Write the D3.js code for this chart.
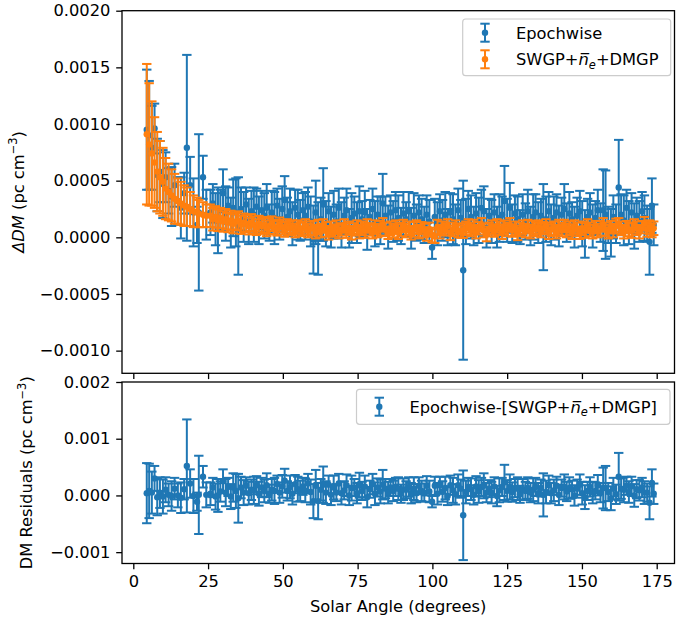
<!DOCTYPE html>
<html>
<head>
	<meta charset="utf-8">
	<title>DM vs solar angle</title>
	<script type="text/javascript" src="https://d3js.org/d3.v7.min.js"></script>
	<style>
		body { margin: 0; background: #fff; }
		text { font-family: "DejaVu Sans", sans-serif; fill: #000; }
	</style>
</head>
<body>
<div id="chart"></div>
<script type="text/javascript">

/* all DM values are in units of 1e-4 pc cm^-3 */
var angle = [
	4.5, 5.3, 6.2, 7.1, 8.0, 8.9, 9.9, 10.8, 11.8, 12.8,
	13.8, 14.9, 15.9, 17.0, 17.9, 19.0, 20.1, 21.3, 21.9, 23.3, 24.4,
	25.8, 26.6, 27.5, 28.3, 29.1, 30.0, 30.9, 31.7, 32.6, 33.4,
	34.3, 35.1, 36.0, 36.9, 37.7, 38.6, 39.5, 40.3, 41.2, 42.0,
	42.9, 43.8, 44.6, 45.5, 46.3, 47.2, 48.1, 48.9, 49.8, 50.6,
	51.5, 52.4, 53.2, 54.1, 55.0, 55.8, 56.7, 57.5, 58.4, 59.3,
	60.2, 61.0, 61.8, 62.7, 63.5, 64.4, 65.3, 66.1, 67.0, 67.9,
	68.7, 69.6, 70.5, 71.3, 72.2, 73.0, 73.9, 74.8, 75.6, 76.5,
	77.4, 78.2, 79.1, 80.0, 80.8, 81.7, 82.6, 83.4, 84.3, 85.2,
	86.0, 86.9, 87.7, 88.6, 89.5, 90.3, 91.2, 92.1, 92.9, 93.8,
	94.7, 95.5, 96.4, 97.3, 98.1, 99.0, 99.9,
	100.8, 101.7, 102.5, 103.4, 104.3, 105.1, 106.0, 106.9, 107.7, 108.6,
	109.5, 110.3, 111.2, 112.0, 112.9, 113.8, 114.6, 115.5, 116.4, 117.2,
	118.1, 119.0, 119.8, 120.7, 121.6, 122.4, 123.3, 124.1, 125.0, 125.9,
	126.7, 127.6, 128.5, 129.3, 130.2, 131.1, 131.9, 132.8, 133.7, 134.5,
	135.4, 136.3, 137.1, 138.0, 138.9, 139.7,
	140.6, 141.5, 142.3, 143.2, 144.1, 144.9, 145.8, 146.7, 147.5, 148.4,
	149.3, 150.1, 151.0, 151.9, 152.7, 153.6, 154.5, 155.3, 156.2, 157.1,
	157.9, 158.8, 159.7, 160.5, 161.4, 162.3, 163.1, 164.0, 164.9, 165.7,
	166.6, 167.5, 168.3, 169.2, 170.1, 170.9, 171.8, 172.6, 173.4, 174.0
];

var epochDM = [
	9.5, 9.0, 7.9, 9.6, 5.5, 5.8, 4.7, 5.3, 4.1, 3.6,
	4.6, 3.2, 2.6, 3.9, 7.9, 4.6, 2.2, 1.1, 2.2, 5.3, 2.0,
	2.2, 3.0, 1.6, 1.5, 2.4, 3.9, 2.1, 2.8, 1.3, 2.6,
	2.2, 1.0, 2.5, 1.8, 2.9, 1.4, 2.3, 2.0, 2.7, 1.5,
	2.4, 1.9, 2.6, 1.3, 2.2, 1.7, 2.8, 1.6, 2.5, 3.3,
	1.8, 2.3, 1.2, 2.6, 2.0, 1.5, 2.4, 1.9, 2.7, 1.4,
	-0.2, 2.2, -0.1, 1.6, 2.9, 1.2, 2.3, 0.9, 2.0, 1.4,
	2.6, 1.1, 1.9, 2.4, 0.8, 1.7, 2.1, 1.3, 2.3, 1.6,
	2.2, 0.7, 1.8, 2.5, 1.2, 2.0, 1.5, 3.0, 1.9, 0.9,
	2.2, 1.4, 2.4, 1.7, 1.0, 2.1, 1.6, 2.3, 0.8, 1.9,
	1.3, 2.2, 1.6, 1.1, 2.0, 1.4, -0.9,
	1.8, 1.2, 2.3, 1.5, 2.0, 0.9, 2.2, 1.6, 1.1, 2.4,
	1.7, -2.9, 1.4, 2.5, 1.8, 1.0, 2.1, 1.5, 2.6, 2.3,
	0.8, 1.9, 1.4, 2.2, 0.9, 1.7, 2.0, 3.2, 1.5, 2.6,
	1.2, 2.1, 1.6, 0.9, 2.0, 1.4, 2.3, 1.0, 1.8, 2.2,
	1.3, 1.9, 0.9, 1.6, 2.3, 1.1,
	1.7, 2.2, 1.0, 2.0, 2.5, 1.3, 2.1, 1.6, 0.9, 1.9,
	2.3, 1.2, 0.3, 1.8, 2.2, 1.0, 1.7, 2.4, 1.3, 2.4,
	2.0, 1.1, 0.4, 1.8, 1.2, 4.4, 2.0, 1.5, 2.6, 1.3,
	2.2, 1.0, 1.9, 1.4, 2.3, 1.7, 1.2, -0.4, 2.8, 1.1
];

var epochErr = [
	5.3, 4.8, 3.7, 2.2, 3.2, 2.7, 3.0, 2.2, 2.0, 2.6,
	1.9, 2.1, 2.7, 1.8, 8.2, 2.5, 3.0, 1.6, 6.9, 1.9, 2.2,
	2.0, 1.7, 2.3, 2.9, 1.8, 2.1, 2.4, 1.6, 2.2, 2.5,
	3.0, 4.3, 1.9, 2.2, 1.5, 2.0, 1.8, 2.4, 1.6, 2.1,
	1.7, 2.0, 2.1, 1.6, 1.9, 2.3, 1.5, 1.8, 2.0, 2.1,
	1.7, 2.0, 1.9, 1.6, 2.2, 1.8, 1.5, 2.1, 1.7, 2.2,
	3.0, 2.8, 3.2, 1.9, 3.2, 2.0, 1.6, 1.8, 2.1, 1.5,
	1.7, 2.0, 1.6, 1.9, 1.7, 2.2, 1.5, 1.8, 2.2, 1.6,
	1.9, 1.8, 1.5, 1.8, 2.0, 1.6, 2.1, 2.6, 1.7, 1.9,
	1.5, 1.8, 1.6, 2.0, 1.6, 1.9, 1.5, 1.7, 1.8, 2.0,
	1.6, 1.5, 1.8, 1.6, 1.7, 1.9, 1.0,
	1.6, 1.9, 1.5, 1.8, 2.0, 1.6, 1.7, 2.2, 1.8, 1.9,
	1.6, 7.9, 2.0, 1.6, 1.9, 1.7, 1.8, 2.0, 1.6, 2.2,
	1.7, 1.5, 1.9, 1.6, 1.8, 2.1, 1.6, 3.1, 1.9, 2.2,
	1.7, 1.6, 2.0, 1.5, 1.8, 1.6, 1.9, 1.7, 2.0, 1.6,
	1.8, 1.5, 3.8, 2.0, 1.7, 1.8,
	1.9, 1.6, 1.8, 1.5, 2.2, 1.7, 1.9, 1.5, 1.8, 1.6,
	1.8, 2.0, 2.1, 1.6, 1.7, 1.9, 1.5, 1.8, 1.7, 3.6,
	3.9, 1.6, 2.1, 1.9, 1.7, 4.2, 1.8, 2.2, 1.6, 1.9,
	1.7, 2.0, 1.6, 1.8, 1.7, 2.0, 1.6, 2.9, 2.4, 1.8
];

var modelDM = [
	9.1, 8.2, 7.4, 6.6, 5.8, 5.3, 4.9, 4.3, 4.0, 3.7,
	3.4, 3.2, 3.0, 2.8, 2.7, 2.5, 2.3, 2.2, 2.1, 2.0, 1.9,
	1.9, 1.6, 1.8, 1.5, 1.7, 1.4, 1.6, 1.3, 1.5, 1.2,
	1.4, 1.5, 1.1, 1.3, 1.2, 1.0, 1.3, 1.1, 0.9, 1.2,
	1.0, 1.1, 0.8, 1.0, 1.2, 0.9, 0.8, 1.1, 0.9, 0.7,
	1.0, 0.8, 0.9, 0.6, 0.9, 0.7, 0.8, 1.0, 0.6, 0.8,
	0.8, 0.5, 0.9, 0.6, 1.0, 0.7, 0.4, 0.8, 0.6, 0.9,
	0.5, 0.7, 1.0, 0.6, 0.8, 0.4, 0.7, 0.9, 0.5, 0.8,
	0.6, 1.0, 0.7, 0.5, 0.9, 0.6, 0.8, 1.1, 0.7, 0.4,
	0.8, 0.6, 0.9, 0.5, 0.7, 1.0, 0.6, 0.8, 0.4, 0.7,
	0.9, 0.5, 0.8, 0.6, 0.3, 0.7, 0.2,
	0.1, 0.9, 0.5, 0.8, 0.7, 1.0, 0.4, 0.7, 0.9, 0.6,
	0.5, 0.6, 0.8, 1.0, 0.7, 0.9, 0.5, 0.8, 1.1, 0.6,
	0.3, 0.7, 0.9, 0.6, 1.0, 0.8, 0.5, 0.9, 0.7, 1.1,
	0.6, 0.8, 0.4, 0.7, 0.9, 0.6, 1.0, 0.5, 0.8, 0.7,
	0.9, 0.6, 0.8, 1.0, 0.5, 0.7,
	0.8, 0.5, 0.9, 0.7, 1.0, 0.6, 0.8, 0.5, 0.9, 0.7,
	0.4, 0.8, 0.6, 1.0, 0.7, 0.5, 0.9, 0.6, 0.8, 1.1,
	0.7, 0.5, 0.9, 0.6, 1.0, 1.1, 0.8, 0.5, 0.9, 0.7,
	0.6, 1.0, 0.8, 0.5, 0.9, 1.2, 0.7, 0.9, 0.6, 0.8
];

var modelErr = [
	6.2, 5.4, 4.6, 4.0, 3.5, 3.2, 3.0, 2.7, 2.5, 2.3,
	2.2, 2.0, 1.9, 1.8, 1.7, 1.5, 1.4, 1.3, 1.2, 1.1, 1.0,
	1.0, 1.0, 0.95, 0.95, 0.9, 0.9, 0.9, 0.85, 0.85, 0.85,
	0.8, 0.8, 0.8, 0.8, 0.75, 0.75, 0.75, 0.75, 0.7, 0.7,
	0.7, 0.7, 0.7, 0.7, 0.65, 0.65, 0.65, 0.65, 0.65, 0.65,
	0.6, 0.6, 0.6, 0.6, 0.6, 0.6, 0.6, 0.6, 0.6, 0.6,
	0.65, 0.6, 0.65, 0.6, 0.6, 0.65, 0.6, 0.6, 0.55, 0.6,
	0.6, 0.55, 0.6, 0.65, 0.6, 0.6, 0.55, 0.6, 0.6, 0.6,
	0.65, 0.6, 0.55, 0.6, 0.6, 0.6, 0.65, 0.6, 0.6, 0.55,
	0.6, 0.6, 0.6, 0.65, 0.6, 0.55, 0.6, 0.6, 0.6, 0.65,
	0.6, 0.6, 0.55, 0.6, 0.6, 0.6, 0.65,
	0.6, 0.65, 0.6, 0.6, 0.55, 0.6, 0.65, 0.6, 0.6, 0.6,
	0.55, 0.65, 0.6, 0.6, 0.6, 0.65, 0.6, 0.55, 0.6, 0.6,
	0.65, 0.6, 0.6, 0.55, 0.6, 0.6, 0.65, 0.6, 0.6, 0.6,
	0.55, 0.6, 0.65, 0.6, 0.6, 0.6, 0.55, 0.6, 0.65, 0.6,
	0.6, 0.6, 0.55, 0.6, 0.65, 0.6,
	0.6, 0.6, 0.65, 0.6, 0.55, 0.6, 0.6, 0.65, 0.6, 0.6,
	0.55, 0.6, 0.65, 0.6, 0.6, 0.6, 0.55, 0.6, 0.65, 0.6,
	0.6, 0.6, 0.55, 0.6, 0.65, 0.6, 0.6, 0.6, 0.55, 0.6,
	0.65, 0.6, 0.6, 0.6, 0.55, 0.6, 0.65, 0.6, 0.6, 0.6
];

var xTicks = [0, 25, 50, 75, 100, 125, 150, 175];
var topYTicks = [-0.0010, -0.0005, 0.0000, 0.0005, 0.0010, 0.0015, 0.0020];
var botYTicks = [-0.001, 0.000, 0.001, 0.002];

var UNIT = 1e-4;
var BLUE = "#1f77b4", ORANGE = "#ff7f0e";
var FS = 16.3;

var svg = d3.select("#chart").append("svg")
	.attr("width", 676).attr("height", 622);

var x = d3.scaleLinear().domain([-3.78, 180.95]).range([122, 674.5]);
var yTop = d3.scaleLinear().domain([-0.0012, 0.002]).range([373.3, 10.7]);
var yBot = d3.scaleLinear().domain([-0.0012, 0.002]).range([563.5, 382]);

/* residual = epochwise minus model, error bars keep the epochwise size */
var resid = angle.map(function(a, i) { return epochDM[i] - modelDM[i]; });

function errorbars(g, vals, errs, yScale, color) {
	var idx = d3.range(angle.length);
	var s = g.append("g");
	s.selectAll("line.bar").data(idx).enter().append("line")
		.attr("x1", function(i) { return x(angle[i]); })
		.attr("x2", function(i) { return x(angle[i]); })
		.attr("y1", function(i) { return yScale((vals[i] - errs[i]) * UNIT); })
		.attr("y2", function(i) { return yScale((vals[i] + errs[i]) * UNIT); })
		.attr("stroke", color).attr("stroke-width", 2);
	[-1, 1].forEach(function(sg) {
		s.selectAll("line.cap" + sg).data(idx).enter().append("line")
			.attr("x1", function(i) { return x(angle[i]) - 4.7; })
			.attr("x2", function(i) { return x(angle[i]) + 4.7; })
			.attr("y1", function(i) { return yScale((vals[i] + sg * errs[i]) * UNIT); })
			.attr("y2", function(i) { return yScale((vals[i] + sg * errs[i]) * UNIT); })
			.attr("stroke", color).attr("stroke-width", 2);
	});
	s.selectAll("circle").data(idx).enter().append("circle")
		.attr("cx", function(i) { return x(angle[i]); })
		.attr("cy", function(i) { return yScale(vals[i] * UNIT); })
		.attr("r", 3.2)
		.attr("fill", color);
}

function styleAxis(g) {
	g.select(".domain").remove();
	g.selectAll(".tick line").attr("stroke", "#000").attr("stroke-width", 1.3);
	g.selectAll(".tick text").attr("font-size", FS).attr("fill", "#000")
		.attr("font-family", "DejaVu Sans");
}

function frame(top, bottom) {
	svg.append("rect")
		.attr("x", 122).attr("y", top)
		.attr("width", 674.5 - 122).attr("height", bottom - top)
		.attr("fill", "none").attr("stroke", "#000").attr("stroke-width", 1.3);
}

function legendHandle(cx, cy, color) {
	var h = svg.append("g");
	h.append("line").attr("x1", cx).attr("x2", cx).attr("y1", cy - 9).attr("y2", cy + 9)
		.attr("stroke", color).attr("stroke-width", 2);
	[-9, 9].forEach(function(d) {
		h.append("line").attr("x1", cx - 4.7).attr("x2", cx + 4.7)
			.attr("y1", cy + d).attr("y2", cy + d)
			.attr("stroke", color).attr("stroke-width", 2);
	});
	h.append("circle").attr("cx", cx).attr("cy", cy).attr("r", 3.2).attr("fill", color);
}

/* writes the SWGP+ n-bar_e +DMGP label into a text element */
function modelLabel(t, prefix, suffix) {
	t.append("tspan").text(prefix + "SWGP+");
	t.append("tspan").attr("font-style", "italic").text("n\u0305");
	t.append("tspan").attr("font-style", "italic").attr("font-size", FS * 0.7)
		.attr("dy", 3.5).text("e");
	t.append("tspan").attr("dy", -3.5).text("+DMGP" + suffix);
}

/* ---- top panel ---- */
var gTop = svg.append("g");
gTop.append("g").attr("transform", "translate(122,0)")
	.call(d3.axisLeft(yTop).tickValues(topYTicks).tickSize(5.8).tickPadding(5.8)
		.tickFormat(d3.format(".4f")))
	.call(styleAxis);
gTop.append("g").attr("transform", "translate(0,373.3)")
	.call(d3.axisBottom(x).tickValues(xTicks).tickSize(5.8).tickFormat(""))
	.call(styleAxis);

errorbars(gTop, epochDM, epochErr, yTop, BLUE);
errorbars(gTop, modelDM, modelErr, yTop, ORANGE);
frame(10.7, 373.3);

var ylab1 = svg.append("text")
	.attr("transform", "translate(23.5," + ((10.7 + 373.3) / 2) + ") rotate(-90)")
	.attr("text-anchor", "middle").attr("font-size", FS);
ylab1.append("tspan").attr("font-style", "italic").text("\u0394DM");
ylab1.append("tspan").text(" (pc cm");
ylab1.append("tspan").attr("font-size", FS * 0.7).attr("dy", -6.5).text("\u22123");
ylab1.append("tspan").attr("dy", 6.5).text(")");

svg.append("rect").attr("x", 462.7).attr("y", 19).attr("width", 208).attr("height", 56.7)
	.attr("rx", 3).attr("fill", "#fff").attr("fill-opacity", 0.8)
	.attr("stroke", "#cccccc").attr("stroke-width", 1.2);
legendHandle(485, 32.7, BLUE);
legendHandle(485, 59.3, ORANGE);
svg.append("text").attr("x", 516).attr("y", 38.6).attr("font-size", FS).text("Epochwise");
modelLabel(svg.append("text").attr("x", 516).attr("y", 65.2).attr("font-size", FS), "", "");

/* ---- bottom panel ---- */
var gBot = svg.append("g");
gBot.append("g").attr("transform", "translate(122,0)")
	.call(d3.axisLeft(yBot).tickValues(botYTicks).tickSize(5.8).tickPadding(5.8)
		.tickFormat(d3.format(".3f")))
	.call(styleAxis);
gBot.append("g").attr("transform", "translate(0,563.5)")
	.call(d3.axisBottom(x).tickValues(xTicks).tickSize(5.8).tickPadding(5.8)
		.tickFormat(d3.format("d")))
	.call(styleAxis);

errorbars(gBot, resid, epochErr, yBot, BLUE);
frame(382, 563.5);

var ylab2 = svg.append("text")
	.attr("transform", "translate(32," + ((382 + 563.5) / 2) + ") rotate(-90)")
	.attr("text-anchor", "middle").attr("font-size", FS);
ylab2.append("tspan").text("DM Residuals (pc cm");
ylab2.append("tspan").attr("font-size", FS * 0.7).attr("dy", -6.5).text("\u22123");
ylab2.append("tspan").attr("dy", 6.5).text(")");

svg.append("text").attr("x", (122 + 674.5) / 2).attr("y", 611.5)
	.attr("text-anchor", "middle").attr("font-size", FS).text("Solar Angle (degrees)");

svg.append("rect").attr("x", 356.5).attr("y", 389.3).attr("width", 313.5).attr("height", 35)
	.attr("rx", 3).attr("fill", "#fff").attr("fill-opacity", 0.8)
	.attr("stroke", "#cccccc").attr("stroke-width", 1.2);
legendHandle(379.3, 406.7, BLUE);
modelLabel(svg.append("text").attr("x", 409.5).attr("y", 412.6).attr("font-size", FS),
	"Epochwise-[", "]");

</script>
</body>
</html>
